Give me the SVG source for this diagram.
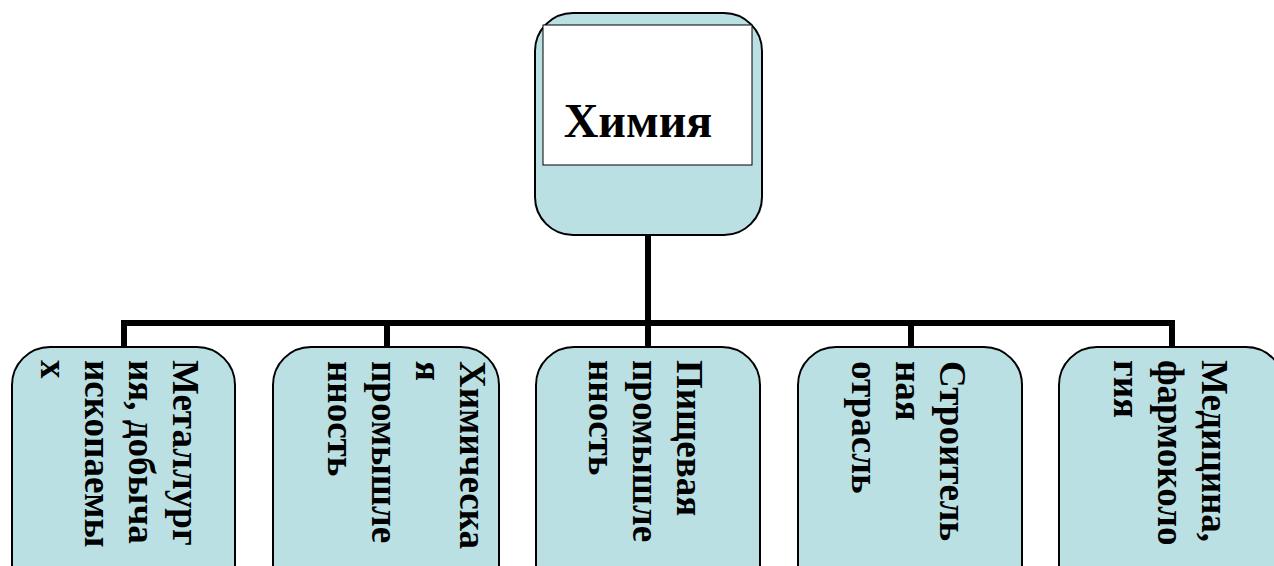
<svg xmlns="http://www.w3.org/2000/svg" width="1274" height="566" viewBox="0 0 1274 566">
<style>
.box{fill:#BBE0E3;stroke:#000;stroke-width:2}
.inner{fill:#fff;stroke:#000;stroke-width:1}
.lbl{font-family:"Liberation Serif","Times New Roman",serif;font-weight:bold;font-size:37px;fill:#000}
.title{font-family:"Liberation Serif","Times New Roman",serif;font-weight:bold;font-size:48px;fill:#000}
.conn{fill:none;stroke:#000;stroke-width:6}
</style>
<rect width="1274" height="566" fill="#fff"/>
<g id="connectors">
<path class="conn" d="M648,235 V323"/>
<path class="conn" d="M124,347 V323 H1172 V347"/>
<path class="conn" d="M387,323 V347"/>
<path class="conn" d="M648,323 V347"/>
<path class="conn" d="M911,323 V347"/>
</g>
<g id="node-chemistry">
<rect class="box" x="535" y="13" width="227" height="222" rx="38" ry="38"/>
<rect class="inner" x="543" y="25" width="209" height="140"/>
<text class="title" x="638" y="137" text-anchor="middle">Химия</text>
</g>
<g id="node-metallurgy">
<rect class="box" x="12" y="347" width="223" height="260" rx="38" ry="38"/>
<text class="lbl" transform="translate(173,360) rotate(90)"><tspan x="0" dy="0">Металлург</tspan><tspan x="0" dy="44">ия, добыча</tspan><tspan x="0" dy="44">ископаемы</tspan><tspan x="0" dy="44">х</tspan></text>
</g>
<g id="node-chemical-industry">
<rect class="box" x="273" y="347" width="226" height="260" rx="38" ry="38"/>
<text class="lbl" transform="translate(460,361) rotate(90)"><tspan x="0" dy="0">Химическа</tspan><tspan x="0" dy="44">я</tspan><tspan x="0" dy="44">промышле</tspan><tspan x="0" dy="44">нность</tspan></text>
</g>
<g id="node-food-industry">
<rect class="box" x="536" y="347" width="224" height="260" rx="38" ry="38"/>
<text class="lbl" transform="translate(677,360) rotate(90)"><tspan x="0" dy="0">Пищевая</tspan><tspan x="0" dy="44">промышле</tspan><tspan x="0" dy="44">нность</tspan></text>
</g>
<g id="node-construction">
<rect class="box" x="798" y="347" width="224" height="260" rx="38" ry="38"/>
<text class="lbl" transform="translate(940,361) rotate(90)"><tspan x="0" dy="0">Строитель</tspan><tspan x="0" dy="44">ная</tspan><tspan x="0" dy="44">отрасль</tspan></text>
</g>
<g id="node-medicine">
<rect class="box" x="1059" y="347" width="225" height="260" rx="38" ry="38"/>
<text class="lbl" transform="translate(1202,360) rotate(90)"><tspan x="0" dy="0">Медицина,</tspan><tspan x="0" dy="44">фармоколо</tspan><tspan x="0" dy="44">гия</tspan></text>
</g>
</svg>
